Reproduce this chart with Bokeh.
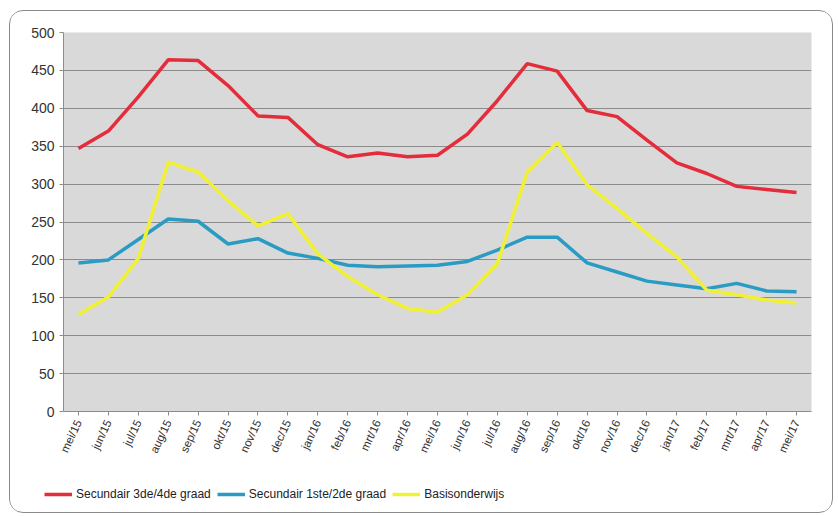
import math
from bokeh.plotting import figure
from bokeh.layouts import column, row
from bokeh.models import FactorRange, Range1d, Legend, LegendItem, SingleIntervalTicker
from bokeh.embed import file_html
from bokeh.resources import INLINE

months = ["mei/15", "jun/15", "jul/15", "aug/15", "sep/15", "okt/15", "nov/15", "dec/15",
          "jan/16", "feb/16", "mrt/16", "apr/16", "mei/16", "jun/16", "jul/16", "aug/16",
          "sep/16", "okt/16", "nov/16", "dec/16", "jan/17", "feb/17", "mrt/17", "apr/17", "mei/17"]

sec_3_4 = [347, 370, 415, 464, 463, 430, 390, 388, 352, 336, 341, 336, 338, 366, 410, 459,
           449, 397, 389, 358, 328, 314, 297, 293, 289]
sec_1_2 = [196, 200, 227, 254, 251, 221, 228, 209, 202, 193, 191, 192, 193, 198, 213, 230,
           230, 196, 184, 172, 167, 162, 169, 159, 158]
basis = [128, 151, 202, 329, 316, 278, 245, 261, 208, 178, 154, 136, 131, 154, 195, 316,
         355, 299, 268, 235, 204, 160, 154, 147, 143]

names = ["Secundair 3de/4de graad", "Secundair 1ste/2de graad", "Basisonderwijs"]
colors = ["#e42c3a", "#2a9cc4", "#f0f035"]

p = figure(width=821, height=470, x_range=FactorRange(*months), y_range=Range1d(0, 500),
           output_backend="svg", toolbar_location=None,
           min_border_left=53, min_border_right=20, min_border_top=21, min_border_bottom=70)

p.background_fill_color = "#d9d9d9"
p.border_fill_color = "white"
p.outline_line_color = None

p.xgrid.grid_line_color = None
p.ygrid.grid_line_color = "#8c8c8c"
p.ygrid.grid_line_width = 1

p.yaxis.ticker = SingleIntervalTicker(interval=50)
p.yaxis.minor_tick_line_color = None
p.yaxis.major_tick_out = 4
p.yaxis.major_tick_in = 0
p.yaxis.axis_line_color = "#8c8c8c"
p.yaxis.major_tick_line_color = "#8c8c8c"
p.yaxis.major_label_text_font = "Liberation Sans"
p.yaxis.major_label_text_font_size = "14px"
p.yaxis.major_label_text_color = "#333333"

p.xaxis.axis_line_color = "#8c8c8c"
p.xaxis.major_tick_line_color = "#8c8c8c"
p.xaxis.major_tick_out = 4
p.xaxis.major_tick_in = 0
p.xaxis.major_label_orientation = math.radians(65)
p.xaxis.major_label_text_font = "Liberation Sans"
p.xaxis.major_label_text_font_size = "11.5px"
p.xaxis.major_label_text_color = "#333333"

for data, name, col in zip([sec_3_4, sec_1_2, basis], names, colors):
    p.line(months, data, line_color=col, line_width=3.5)

# legend strip below the chart (its sample renderers lie outside the visible range)
q = figure(width=821, height=30, x_range=Range1d(0, 1), y_range=Range1d(0, 1),
           output_backend="svg", toolbar_location=None,
           min_border_left=0, min_border_right=0, min_border_top=0, min_border_bottom=0)
q.axis.visible = False
q.grid.visible = False
q.outline_line_color = None
q.background_fill_color = "white"
q.border_fill_color = "white"

items = []
for name, col in zip(names, colors):
    r = q.line(x=[5, 6], y=[5, 6], line_color=col, line_width=3.5)
    items.append(LegendItem(label=name, renderers=[r]))

legend = Legend(items=items, orientation="horizontal", location=(34, 7),
                label_text_font="Liberation Sans", label_text_font_size="12px",
                label_text_color="#222222", spacing=6, glyph_width=28, label_standoff=4,
                border_line_color=None, background_fill_alpha=0, margin=0, padding=4)
q.add_layout(legend, "center")

root = column(p, row(q, width=821, height=30), width=824, height=503, spacing=0,
              styles={"border": "1.5px solid #8a8a8a", "border-radius": "14px",
                      "overflow": "hidden", "margin-left": "9px", "margin-top": "10px"})

open("out.html", "w").write(file_html(root, INLINE))
